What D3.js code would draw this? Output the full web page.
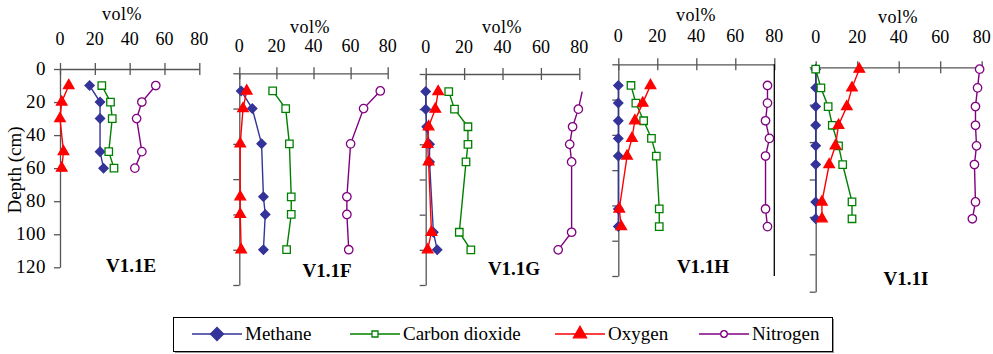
<!DOCTYPE html>
<html>
<head>
<meta charset="utf-8">
<script src="https://cdn.jsdelivr.net/npm/d3@7/dist/d3.min.js"></script>
<style>
	body { margin: 0; background: #fff; }
	svg { display: block; }
	svg text { font-family: "Times New Roman", "Liberation Serif", Tinos, "DejaVu Serif", Times, serif; }
</style>
</head>
<body>
<svg id="chart" width="993" height="354"></svg>
<script>

// ---- data ----
var volTicks = [0, 20, 40, 60, 80];
var depthTicks = [0, 20, 40, 60, 80, 100, 120];
var siteNames = ["V1.1E", "V1.1F", "V1.1G", "V1.1H", "V1.1I"];
var gasNames = ["Methane", "Carbon dioxide", "Oxygen", "Nitrogen"];

var depthE    = [10, 20, 30, 50, 60];
var methaneE  = [17, 23, 23, 23, 25];
var co2E      = [24, 29, 30, 28, 31];
var oxygenE   = [5, 1, 0, 2, 1];
var nitrogenE = [55, 47, 44, 47, 43];

var depthF    = [10, 20, 40, 70, 80, 100];
var methaneF  = [1, 7, 12, 13, 14, 13];
var co2F      = [18, 25, 27, 28, 28, 25.5];
var oxygenF   = [4, 2, 0.5, 0.5, 0.5, 1];
var nitrogenF = [76, 67, 60, 58, 58, 59];

var depthG    = [10, 20, 30, 40, 50, 90, 100];
var methaneG  = [0, 0, 0.5, 2, 2, 4, 6];
var co2G      = [12, 15, 22, 22, 21, 17.5, 23.5];
var oxygenG   = [6.5, 5, 1.5, 1, 1.5, 3, 1];
var nitrogenG = [81.5, 79.5, 76.5, 75, 76, 76, 69];

var depthH    = [12, 22, 32, 42, 52, 82, 92];
var methaneH  = [0, 0, 0, 0, 0, 0, 0];
var co2H      = [6.5, 9, 13, 17, 19.5, 21, 21];
var oxygenH   = [16.5, 12.5, 8.5, 7, 4.5, 0.5, 1.5];
var nitrogenH = [76.5, 76.5, 75.5, 77.5, 75.5, 75.5, 76.5];

var depthI    = [1, 11, 21, 31, 42, 52, 72, 81];
var methaneI  = [0, 0, 0, 0, 0, 0, 0, 0];
var co2I      = [0, 2.5, 6, 8, 11, 13, 17.5, 17.5];
var oxygenI   = [21, 17.5, 15, 11, 9.5, 6.5, 3, 3];
var nitrogenI = [79, 78, 77, 77, 77.5, 76.5, 77, 75.5];

var sites = [
	{ name: siteNames[0], depth: depthE, gases: [methaneE, co2E, oxygenE, nitrogenE] },
	{ name: siteNames[1], depth: depthF, gases: [methaneF, co2F, oxygenF, nitrogenF] },
	{ name: siteNames[2], depth: depthG, gases: [methaneG, co2G, oxygenG, nitrogenG] },
	{ name: siteNames[3], depth: depthH, gases: [methaneH, co2H, oxygenH, nitrogenH] },
	{ name: siteNames[4], depth: depthI, gases: [methaneI, co2I, oxygenI, nitrogenI] }
];

// ---- layout (each panel was placed by hand in the original) ----
var panels = [
	{ x0: 60,    x1: 199.3, y0: 69,   y1: 267.3, tickY: 45,   volY: 20,   volX: 122, titleX: 131, titleY: 272 },
	{ x0: 239.3, x1: 387.7, y0: 73.3, y1: 285,   tickY: 52,   volY: 33,   volX: 310, titleX: 327, titleY: 277 },
	{ x0: 425.7, x1: 579.3, y0: 74,   y1: 285,   tickY: 53,   volY: 33,   volX: 502, titleX: 514, titleY: 275 },
	{ x0: 618.3, x1: 774.3, y0: 64.3, y1: 276,   tickY: 41.7, volY: 20.7, volX: 696, titleX: 703, titleY: 273 },
	{ x0: 815.7, x1: 981.7, y0: 67.3, y1: 291.7, tickY: 43.3, volY: 22.7, volX: 898, titleX: 906, titleY: 285 }
];

var styles = [
	{ color: "#333399", symbol: d3.symbolSquare,   size: 42, legendSize: 85, rotate: 45, fill: true },
	{ color: "#008000", symbol: d3.symbolSquare,   size: 56, legendSize: 36, rotate: 0,  fill: false },
	{ color: "#ff0000", symbol: d3.symbolTriangle, size: 48, legendSize: 75, rotate: 0,  fill: true },
	{ color: "#800080", symbol: d3.symbolCircle,   size: 56, legendSize: 34, rotate: 0,  fill: false }
];

var axisColor = "#555";
var svg = d3.select("#chart");

function drawMarker( g, st, x, y, size ) {
	g.append("path")
		.attr("d", d3.symbol().type(st.symbol).size(size)())
		.attr("transform", "translate(" + x + "," + y + ") rotate(" + st.rotate + ")")
		.attr("fill", st.fill ? st.color : "#fff")
		.attr("stroke", st.color)
		.attr("stroke-width", 1.3);
}

sites.forEach(function( site, i ) {

	var p = panels[i];
	var g = svg.append("g");

	var x = d3.scaleLinear().domain([0, 80]).range([p.x0, p.x1]);
	var y = d3.scaleLinear().domain([0, 120]).range([p.y0, p.y1]);

	// top axis
	var xAxis = g.append("g")
		.attr("transform", "translate(0," + p.y0 + ")")
		.call(d3.axisTop(x).tickValues(volTicks).tickSizeInner(6).tickSizeOuter(0));
	xAxis.select(".domain").attr("stroke", axisColor).attr("stroke-width", 1.3);
	xAxis.selectAll(".tick line").attr("stroke", axisColor).attr("stroke-width", 1.3).attr("y2", 6).attr("y1", -6);
	xAxis.selectAll(".tick text").remove();

	g.selectAll(".vtick").data(volTicks).enter().append("text")
		.attr("x", function(d) { return x(d); })
		.attr("y", p.tickY)
		.attr("text-anchor", "middle")
		.attr("font-size", 18)
		.attr("fill", "#000")
		.text(function(d) { return d; });

	g.append("text")
		.attr("x", p.volX).attr("y", p.volY)
		.attr("text-anchor", "middle")
		.attr("font-size", 18)
		.attr("letter-spacing", 0.5)
		.text("vol%");

	// left axis
	var yAxis = g.append("g")
		.attr("transform", "translate(" + p.x0 + ",0)")
		.call(d3.axisLeft(y).tickValues(depthTicks).tickSizeInner(6).tickSizeOuter(0));
	yAxis.select(".domain").attr("stroke", axisColor).attr("stroke-width", 1.3);
	yAxis.selectAll(".tick line").attr("stroke", axisColor).attr("stroke-width", 1.3);
	yAxis.selectAll(".tick text").remove();

	if ( i === 0 ) {
		g.selectAll(".dtick").data(depthTicks).enter().append("text")
			.attr("x", p.x0 - 14)
			.attr("y", function(d) { return y(d) + 6; })
			.attr("text-anchor", "end")
			.attr("font-size", 19)
			.attr("letter-spacing", 0.5)
			.text(function(d) { return d; });

		g.append("text")
			.attr("transform", "translate(21,170) rotate(-90)")
			.attr("text-anchor", "middle")
			.attr("font-size", 19)
			.text("Depth (cm)");
	}

	// stray frame line on the right of the H panel
	if ( i === 3 ) {
		g.append("line")
			.attr("x1", x(80)).attr("x2", x(80))
			.attr("y1", p.y0).attr("y2", p.y1)
			.attr("stroke", "#000").attr("stroke-width", 1.3);
	}

	// series
	site.gases.forEach(function( vals, k ) {
		var st = styles[k];
		var pts = vals.map(function(v, j) { return { v: v, d: site.depth[j] }; });

		g.append("path")
			.datum(pts)
			.attr("fill", "none")
			.attr("stroke", st.color)
			.attr("stroke-width", 1.4)
			.attr("d", d3.line().x(function(d) { return x(d.v); }).y(function(d) { return y(d.d); }));

		// points past 80 % fall outside the plot area and lose their marker
		pts.filter(function(d) { return d.v <= 80; }).forEach(function(d) {
			drawMarker( g, st, x(d.v), y(d.d), st.size );
		});
	});

	g.append("text")
		.attr("x", p.titleX).attr("y", p.titleY)
		.attr("text-anchor", "middle")
		.attr("font-size", 19)
		.attr("font-weight", "bold")
		.text(site.name);
});

// ---- legend ----
var legend = svg.append("g");
legend.append("rect")
	.attr("x", 175).attr("y", 319).attr("width", 659).attr("height", 34)
	.attr("fill", "#999");
legend.append("rect")
	.attr("x", 173.5).attr("y", 317.5).attr("width", 659).attr("height", 34)
	.attr("fill", "#fff").attr("stroke", "#000").attr("stroke-width", 1);

var legendX = [192, 350, 555, 699];
gasNames.forEach(function( name, k ) {
	var st = styles[k];
	var lx = legendX[k], ly = 334;
	legend.append("line")
		.attr("x1", lx).attr("x2", lx + 50).attr("y1", ly).attr("y2", ly)
		.attr("stroke", st.color).attr("stroke-width", 1.4);
	drawMarker( legend, st, lx + 25, ly, st.legendSize );
	legend.append("text")
		.attr("x", lx + 53).attr("y", ly + 6)
		.attr("font-size", 19)
		.text(name);
});

</script>
</body>
</html>
